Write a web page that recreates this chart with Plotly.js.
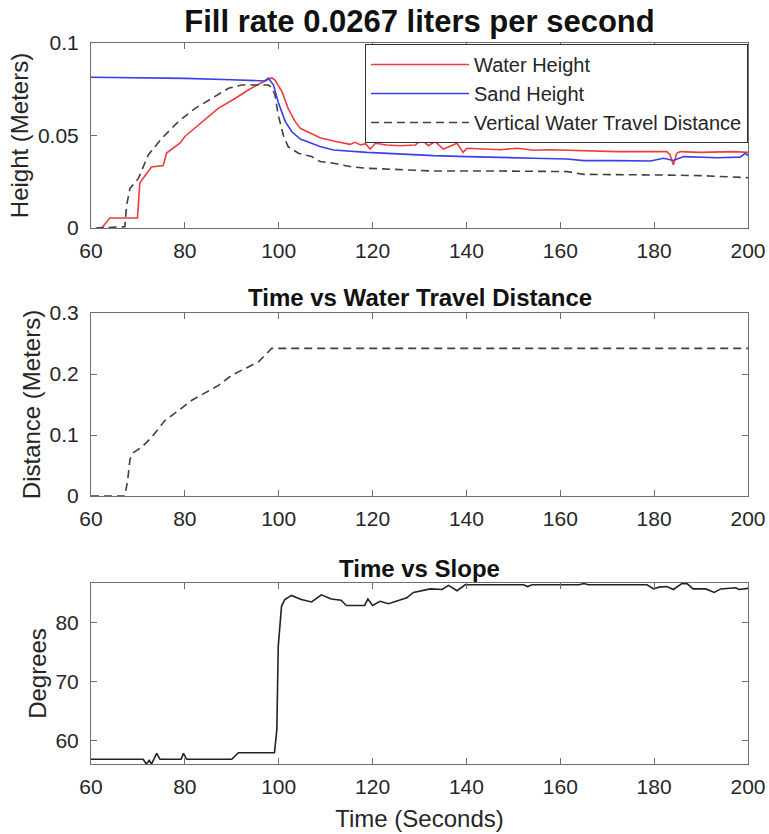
<!DOCTYPE html>
<html>
<head>
<meta charset="utf-8">
<script src="https://cdn.plot.ly/plotly-3.0.1.min.js"></script>
<style>html,body{margin:0;padding:0;background:#fff;}#chart{width:769px;height:834px;}</style>
</head>
<body>
<div id="chart"></div>
<script>
// ---- Top panel: heights (meters) ----
const waterTime = [62.3, 64, 69.9, 70.4, 72.9, 75.4, 76.1, 79, 80, 83.4, 87.1, 90.7, 93.5, 95.7, 97.8, 98.5, 99.2, 100.7, 102, 103.5, 104.6, 108.8, 111.7, 115.2, 116.3, 117.4, 118.5, 119.5, 120.6, 123, 125.9, 129.1, 130.5, 131.9, 133.3, 135.1, 138, 139.3, 140.1, 143.7, 147.2, 150.8, 154.3, 157.9, 161.4, 165, 168.5, 172.1, 175.6, 179.2, 182.7, 183.4, 184.1, 184.8, 185.6, 189.9, 197, 200];
const waterHeight = [0, 0.0054, 0.0054, 0.0245, 0.033, 0.0338, 0.0405, 0.046, 0.0495, 0.057, 0.0647, 0.070, 0.0746, 0.0777, 0.0805, 0.0812, 0.0800, 0.0737, 0.0647, 0.0575, 0.0539, 0.0488, 0.0470, 0.0452, 0.0463, 0.0449, 0.0456, 0.0427, 0.0458, 0.0449, 0.0445, 0.0449, 0.0476, 0.0445, 0.0467, 0.0427, 0.0458, 0.0409, 0.0431, 0.0427, 0.0423, 0.0431, 0.0420, 0.0423, 0.0420, 0.0420, 0.0416, 0.0413, 0.0413, 0.0413, 0.0413, 0.0395, 0.0341, 0.0404, 0.0413, 0.0409, 0.0413, 0.0409];

const sandTime = [60, 70, 80, 90, 97, 97.8, 98.9, 99.9, 101.4, 102.8, 104.6, 108.8, 111.7, 118.8, 125.9, 133, 140.1, 147.2, 154.3, 161.4, 165, 172.1, 179.2, 182, 184.1, 186.3, 193.4, 198.3, 199.4, 200];
const sandHeight = [0.0815, 0.0814, 0.0809, 0.0801, 0.0795, 0.0810, 0.0773, 0.0680, 0.0575, 0.0520, 0.0481, 0.0440, 0.0422, 0.0409, 0.0398, 0.0391, 0.0386, 0.0380, 0.0377, 0.0373, 0.0364, 0.0364, 0.0362, 0.0377, 0.0365, 0.0386, 0.0380, 0.0383, 0.0404, 0.0391];

const vertTime = [61, 67.2, 67.6, 68.3, 70.1, 72.2, 75.1, 78.6, 82.2, 85.7, 89.3, 92.1, 97.8, 98.5, 99.2, 99.9, 101, 102, 104.2, 107, 108.8, 111.7, 115.2, 118.8, 125.9, 133, 147.2, 161.4, 165, 175.6, 182.7, 189.9, 200];
const vertDistance = [0, 0.0007, 0.0124, 0.0214, 0.0268, 0.0395, 0.0485, 0.0575, 0.0647, 0.0700, 0.0755, 0.0773, 0.0773, 0.0760, 0.0719, 0.0610, 0.0500, 0.0440, 0.0404, 0.0386, 0.0359, 0.0350, 0.0332, 0.0323, 0.0314, 0.0308, 0.0308, 0.0305, 0.0290, 0.0290, 0.0286, 0.0283, 0.0272];

// ---- Middle panel: water travel distance (meters) ----
const travelTime = [60, 67.2, 67.8, 68.3, 69, 70.8, 72.9, 75.8, 78.6, 81.5, 84.3, 87.1, 90, 92.8, 95.7, 98.5, 200];
const travelDistance = [0, 0, 0.025, 0.060, 0.071, 0.080, 0.096, 0.124, 0.140, 0.157, 0.169, 0.181, 0.198, 0.209, 0.220, 0.242, 0.242];

// ---- Bottom panel: slope (degrees) ----
const slopeTime = [60, 71.1, 71.8, 72.4, 72.9, 74.0, 74.7, 79.2, 79.7, 80.4, 90, 91.4, 99.1, 99.6, 99.9, 100.6, 101.3, 102.7, 104.8, 107, 109.1, 111.2, 113.3, 114.4, 118.3, 119, 120, 121.6, 123.4, 127.3, 128.7, 132.3, 134.8, 136.2, 138, 139.7, 152.2, 153, 154, 164, 165, 166, 178.5, 179.9, 181, 182.7, 184.1, 185.9, 187, 188.3, 191, 192.8, 194.2, 197.4, 198.1, 200];
const slopeDegrees = [56.9, 56.9, 56.1, 56.7, 56.1, 57.9, 56.9, 56.9, 57.9, 56.9, 56.9, 58.0, 58.0, 61.9, 76, 82.8, 83.9, 84.6, 83.9, 83.5, 84.7, 84.0, 83.8, 82.9, 82.9, 84.0, 82.9, 83.6, 83.2, 84.2, 85.1, 85.7, 85.6, 86.3, 85.4, 86.4, 86.4, 86.1, 86.4, 86.4, 86.6, 86.4, 86.4, 85.7, 86.0, 86.1, 85.6, 86.6, 86.6, 85.7, 85.7, 85.1, 85.7, 85.9, 85.6, 85.8];

// ---- Tick labels ----
const xTicks = [60, 80, 100, 120, 140, 160, 180, 200];
const xTickText = ['60', '80', '100', '120', '140', '160', '180', '200'];
const heightTicks = [0, 0.05, 0.1];
const heightTickText = ['0', '0.05', '0.1'];
const distTicks = [0, 0.1, 0.2, 0.3];
const distTickText = ['0', '0.1', '0.2', '0.3'];
const degTicks = [60, 70, 80];
const degTickText = ['60', '70', '80'];

const FONT = 'Liberation Sans, Arial, Helvetica, sans-serif';
const TXT = '#262626';
const AX = '#6e6e6e';
const DASH = '8px,5px';

const traces = [
  {x: waterTime, y: waterHeight, type: 'scatter', mode: 'lines', name: 'Water Height',
   line: {color: '#f03c3c', width: 1.6}, xaxis: 'x', yaxis: 'y'},
  {x: sandTime, y: sandHeight, type: 'scatter', mode: 'lines', name: 'Sand Height',
   line: {color: '#3c3cf0', width: 1.6}, xaxis: 'x', yaxis: 'y'},
  {x: vertTime, y: vertDistance, type: 'scatter', mode: 'lines', name: 'Vertical Water Travel Distance',
   line: {color: '#404040', width: 1.6, dash: DASH}, xaxis: 'x', yaxis: 'y'},
  {x: travelTime, y: travelDistance, type: 'scatter', mode: 'lines', name: 'Water Travel Distance',
   showlegend: false, line: {color: '#404040', width: 1.6, dash: DASH}, xaxis: 'x2', yaxis: 'y2'},
  {x: slopeTime, y: slopeDegrees, type: 'scatter', mode: 'lines', name: 'Slope',
   showlegend: false, line: {color: '#222222', width: 1.6}, xaxis: 'x3', yaxis: 'y3'}
];

function xAxis(anchor, withTitle) {
  const a = {
    anchor: anchor, domain: [0, 1], range: [60, 200],
    tickvals: xTicks, ticktext: xTickText,
    ticks: 'inside', ticklen: 6, tickcolor: AX, tickwidth: 1,
    showline: true, linecolor: AX, linewidth: 1, mirror: 'ticks',
    showgrid: false, zeroline: false,
    tickfont: {family: FONT, size: 21, color: TXT},
    ticklabelstandoff: 4
  };
  if (withTitle) {
    a.title = {text: 'Time (Seconds)', font: {family: FONT, size: 24, color: TXT}, standoff: 12};
  }
  return a;
}
function yAxis(anchor, domain, range, tv, tt, title) {
  return {
    anchor: anchor, domain: domain, range: range,
    tickvals: tv, ticktext: tt,
    ticks: 'inside', ticklen: 6, tickcolor: AX, tickwidth: 1,
    showline: true, linecolor: AX, linewidth: 1, mirror: 'ticks',
    showgrid: false, zeroline: false,
    tickfont: {family: FONT, size: 21, color: TXT},
    ticklabelstandoff: 7,
    title: {text: title, font: {family: FONT, size: 24, color: TXT}, standoff: 2}
  };
}

const layout = {
  width: 769, height: 834,
  margin: {l: 91, r: 21, t: 0, b: 0},
  paper_bgcolor: '#ffffff', plot_bgcolor: '#ffffff',
  font: {family: FONT, color: TXT},
  title: {text: '<b>Fill rate 0.0267 liters per second</b>', font: {family: FONT, size: 31, color: '#111111'},
          xref: 'paper', x: 0.5, xanchor: 'center', yref: 'container', y: 1 - 21/834, yanchor: 'middle'},
  xaxis: xAxis('y', false),
  xaxis2: xAxis('y2', false),
  xaxis3: xAxis('y3', true),
  yaxis: yAxis('x', [1 - 228/834, 1 - 43/834], [0, 0.1], heightTicks, heightTickText, 'Height (Meters)'),
  yaxis2: yAxis('x2', [1 - 496/834, 1 - 313/834], [0, 0.3], distTicks, distTickText, 'Distance (Meters)'),
  yaxis3: yAxis('x3', [1 - 764/834, 1 - 583/834], [56.1, 86.7], degTicks, degTickText, 'Degrees'),
  showlegend: true,
  legend: {x: 1, xanchor: 'right', y: 1 - 44/834, yanchor: 'top', xref: 'paper', yref: 'paper',
           bgcolor: '#ffffff', bordercolor: '#333333', borderwidth: 1,
           font: {family: FONT, size: 20, color: TXT}, itemwidth: 98, tracegroupgap: 0},
  annotations: [
    {text: '<b>Time vs Water Travel Distance</b>', xref: 'paper', yref: 'paper', x: 0.5, y: 1 - 297/834,
     xanchor: 'center', yanchor: 'middle', showarrow: false, font: {family: FONT, size: 24, color: '#111111'}},
    {text: '<b>Time vs Slope</b>', xref: 'paper', yref: 'paper', x: 0.5, y: 1 - 568/834,
     xanchor: 'center', yanchor: 'middle', showarrow: false, font: {family: FONT, size: 24, color: '#111111'}}
  ]
};

Plotly.newPlot('chart', traces, layout, {displayModeBar: false, staticPlot: true});
</script>
</body>
</html>
